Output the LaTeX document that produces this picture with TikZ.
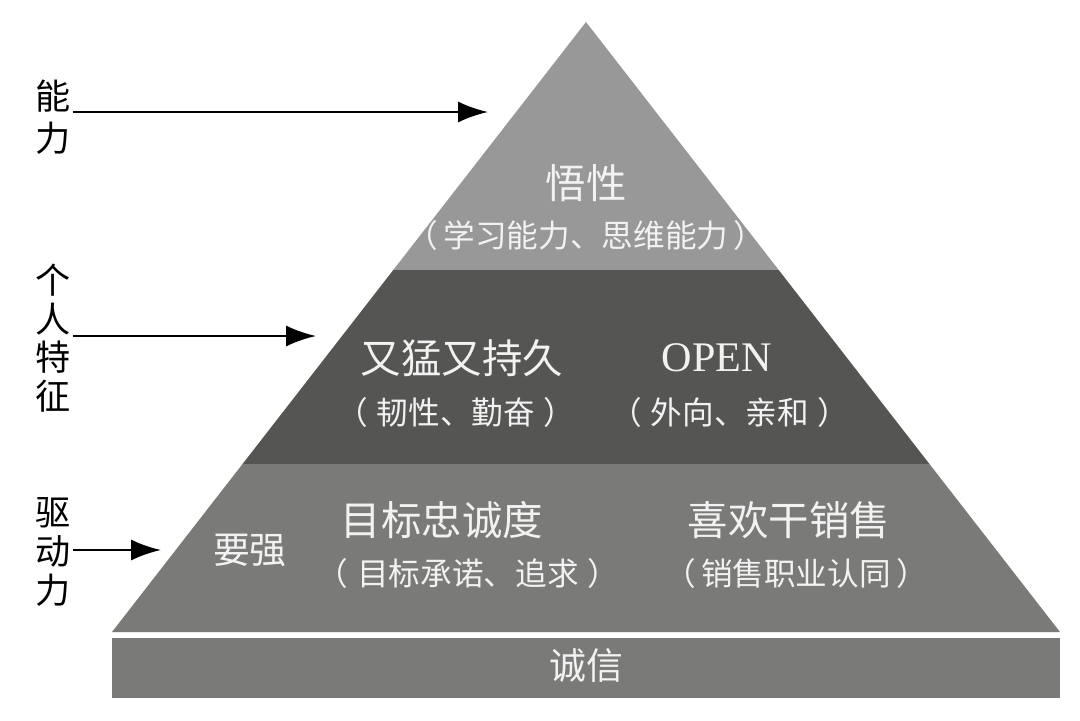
\documentclass[tikz,border=0pt]{standalone}
\usepackage{fontspec}
\usetikzlibrary{arrows.meta, positioning, calc}
\newfontfamily\cjk{Noto Sans CJK SC}
\newfontfamily\latinserif{Liberation Serif}
\definecolor{pylight}{HTML}{989898}
\definecolor{pydark}{HTML}{555554}
\definecolor{pymid}{HTML}{7A7A78}
\definecolor{pytext}{HTML}{F2F2F2}

\begin{document}
\begin{tikzpicture}[x=0.02cm, y=-0.02cm,
  head/.style={font=\cjk\fontsize{23}{26}\selectfont, text=pytext, inner sep=0pt},
  sub/.style={font=\cjk\fontsize{18}{20}\selectfont, text=pytext, inner sep=0pt},
  side/.style={font=\cjk\fontsize{20}{22}\selectfont, align=center, inner sep=1pt},
  pointer/.style={-{Latex[length=17pt, width=12pt]}, line width=1.5pt}]
  \useasboundingbox (0,0) rectangle (1080,721);

  % Pyramid corners, bands cut at y=270 and y=464
  \coordinate (apex) at (586,22);
  \coordinate (bl) at (112,632);
  \coordinate (br) at (1060,632);
  \coordinate (al) at ($(apex)!0.4066!(bl)$);
  \coordinate (ar) at ($(apex)!0.4066!(br)$);
  \coordinate (ml) at ($(apex)!0.7246!(bl)$);
  \coordinate (mr) at ($(apex)!0.7246!(br)$);

  % Bands
  \fill[pylight] (apex) -- (ar) -- (al) -- cycle;
  \fill[pydark] (al) -- (ar) -- (mr) -- (ml) -- cycle;
  \fill[pymid] (ml) -- (mr) -- (br) -- (bl) -- cycle;

  % Base
  \fill[pymid] (112,638) rectangle (1060,698);

  % Top band
  \node[head] (wuxing) at (586,183) {悟性};
  \node[sub] (wuxingsub) at (586,235) {（\,学习能力、思维能力\,）};

  % Middle band
  \node[head] (youmeng) at (462,358) {又猛又持久};
  \node[head, font=\latinserif\fontsize{24}{26}\selectfont] (open) at (717,358) {OPEN};
  \node[sub] (youmengsub) at (456,412) {（\;韧性、勤奋\;）};
  \node[sub] (opensub) at (730,412) {（\;外向、亲和\;）};

  % Bottom band
  \node[head, font=\cjk\fontsize{21}{24}\selectfont] (yaoqiang) at (250,550) {要强};
  \node[head] (mubiao) at (442,520) {目标忠诚度};
  \node[head] (xihuan) at (789,520) {喜欢干销售};
  \node[sub] (mubiaosub) at (468,573) {（\;目标承诺、追求\;）};
  \node[sub] (xihuansub) at (796,573) {（\,销售职业认同\,）};

  % Base text
  \node[head, font=\cjk\fontsize{21}{24}\selectfont] (chengxin) at (586,666) {诚信};

  % Side labels and arrows
  \node[side, font=\cjk\fontsize{20}{24}\selectfont] (nengli) at (53,117) {能\\力};
  \node[side] (tezheng) at (53,338) {个\\人\\特\\征};
  \node[side] (qudong) at (53,552) {驱\\动\\力};
  \coordinate (tipA) at (488,112);
  \coordinate (tipB) at (316,336);
  \coordinate (tipC) at (161,550);
  \draw[pointer] (nengli.east |- tipA) -- (tipA);
  \draw[pointer] (tezheng.east |- tipB) -- (tipB);
  \draw[pointer] (qudong.east |- tipC) -- (tipC);
\end{tikzpicture}
\end{document}
